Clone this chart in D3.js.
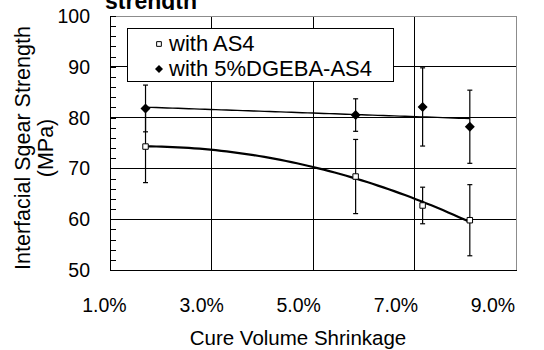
<!DOCTYPE html>
<html><head><meta charset="utf-8">
<script src="https://cdn.jsdelivr.net/npm/d3@7"></script>
<style>
html,body{margin:0;padding:0;background:#fff;}
svg{display:block;font-family:"Liberation Sans",Arial,sans-serif;}
</style></head>
<body>
<svg id="chart" width="544" height="350"></svg>
<script>
// ---- data ----
const shrinkage = [1.70, 5.84, 7.16, 8.09];           // Cure volume shrinkage (%)
const as4Strength = [74.3, 68.4, 62.7, 59.8];          // with AS4 (MPa)
const as4Error = [7.1, 7.3, 3.6, 7.0];
const dgebaStrength = [81.8, 80.5, 82.1, 78.2];        // with 5%DGEBA-AS4 (MPa)
const dgebaError = [4.6, 3.2, 7.7, 7.2];
const xTicks = [1, 3, 5, 7, 9];
const xTickLabels = ["1.0%", "3.0%", "5.0%", "7.0%", "9.0%"];
const yTicks = [50, 60, 70, 80, 90, 100];
const seriesNames = ["with AS4", "with 5%DGEBA-AS4"];
const titleText = "strength";
const xTitle = "Cure Volume Shrinkage";
const yTitle1 = "Interfacial Sgear Strength";
const yTitle2 = "(MPa)";

// ---- layout ----
const svg = d3.select("#chart");
const L = 110, R = 516, T = 16, B = 270;
const x = d3.scaleLinear().domain([1, 9]).range([L, R]);
const xLab = d3.scaleLinear().domain([1, 9]).range([104.5, 493]);
const y = d3.scaleLinear().domain([50, 100]).range([B, T]);

// title (cut at top of picture, as in reference)
svg.append("clipPath").attr("id", "tclip").append("rect").attr("x", 0).attr("y", 0).attr("width", 544).attr("height", 10);
svg.append("text").attr("clip-path", "url(#tclip)")
  .attr("x", 105).attr("y", 9).attr("font-size", 23).attr("font-weight", "bold")
  .text(titleText);

// grid
const g = svg.append("g");
g.selectAll("line.hg").data(yTicks.filter(v => v > 50 && v < 100)).enter().append("line")
  .attr("x1", L).attr("x2", R).attr("y1", d => y(d)).attr("y2", d => y(d))
  .attr("stroke", "#000").attr("stroke-width", 1).attr("shape-rendering", "crispEdges");
g.selectAll("line.vg").data(xTicks.filter(v => v > 1 && v < 9)).enter().append("line")
  .attr("y1", T).attr("y2", B).attr("x1", d => x(d)).attr("x2", d => x(d))
  .attr("stroke", "#000").attr("stroke-width", 1).attr("shape-rendering", "crispEdges");

// top/right frame in grey
g.append("line").attr("x1", L).attr("x2", R).attr("y1", T).attr("y2", T).attr("stroke", "#8c8c8c").attr("shape-rendering", "crispEdges");
g.append("line").attr("x1", R).attr("x2", R).attr("y1", T).attr("y2", B).attr("stroke", "#8c8c8c").attr("shape-rendering", "crispEdges");

// y axis with inward minor ticks
const yAxis = d3.axisRight(y).tickValues(d3.range(50, 101, 2)).tickSize(6).tickFormat("");
const ya = svg.append("g").attr("transform", `translate(${L},0)`).call(yAxis);
ya.selectAll("path,line").attr("stroke", "#000").attr("shape-rendering", "crispEdges");
ya.select(".domain").attr("d", `M0,${T}V${B}`);

// x axis line
const xAxis = d3.axisBottom(x).tickValues(xTicks).tickSize(0).tickFormat("");
const xa = svg.append("g").attr("transform", `translate(0,${B})`).call(xAxis);
xa.selectAll("path").attr("stroke", "#000").attr("shape-rendering", "crispEdges");

// tick labels
svg.selectAll("text.yl").data(yTicks).enter().append("text")
  .attr("x", 90).attr("y", d => y(d) + 7).attr("text-anchor", "end").attr("font-size", 19.5)
  .text(d => d);
svg.selectAll("text.xl").data(xTicks).enter().append("text")
  .attr("x", d => xLab(d)).attr("y", 312).attr("text-anchor", "middle").attr("font-size", 19.5)
  .text((d, i) => xTickLabels[i]);

// axis titles
svg.append("text").attr("x", 298).attr("y", 345).attr("text-anchor", "middle").attr("font-size", 20.5).text(xTitle);
svg.append("text").attr("transform", "translate(30,148) rotate(-90)").attr("text-anchor", "middle").attr("font-size", 21.5).text(yTitle1);
svg.append("text").attr("transform", "translate(53,148) rotate(-90)").attr("text-anchor", "middle").attr("font-size", 21.5).text(yTitle2);

// ---- trendlines (least squares fits of the data) ----
function polyfit(xs, ys, order) {
  const n = order + 1;
  const A = Array.from({length: n}, () => new Array(n + 1).fill(0));
  xs.forEach((xv, k) => {
    for (let i = 0; i < n; i++) {
      for (let j = 0; j < n; j++) A[i][j] += Math.pow(xv, i + j);
      A[i][n] += ys[k] * Math.pow(xv, i);
    }
  });
  for (let i = 0; i < n; i++) {
    let p = i;
    for (let r = i + 1; r < n; r++) if (Math.abs(A[r][i]) > Math.abs(A[p][i])) p = r;
    [A[i], A[p]] = [A[p], A[i]];
    for (let r = 0; r < n; r++) {
      if (r === i) continue;
      const f = A[r][i] / A[i][i];
      for (let c = i; c <= n; c++) A[r][c] -= f * A[i][c];
    }
  }
  const coef = A.map((row, i) => row[n] / row[i]);
  return xv => coef.reduce((s, c, i) => s + c * Math.pow(xv, i), 0);
}
const xmin = d3.min(shrinkage), xmax = d3.max(shrinkage);
const samp = d3.range(0, 61).map(i => xmin + (xmax - xmin) * i / 60);
const fAs4 = polyfit(shrinkage, as4Strength, 2);
const fDg = polyfit(shrinkage, dgebaStrength, 1);
const line = d3.line().x(d => x(d[0])).y(d => y(d[1]));
svg.append("path").attr("d", line(samp.map(v => [v, fAs4(v)]))).attr("fill", "none").attr("stroke", "#000").attr("stroke-width", 2.2);
svg.append("path").attr("d", line(samp.map(v => [v, fDg(v)]))).attr("fill", "none").attr("stroke", "#000").attr("stroke-width", 1.4);

// ---- error bars ----
function errBars(vals, errs) {
  const eg = svg.append("g").attr("stroke", "#000").attr("stroke-width", 1.2);
  shrinkage.forEach((xv, i) => {
    const cx = x(xv), y1 = y(vals[i] + errs[i]), y2 = y(vals[i] - errs[i]);
    eg.append("line").attr("x1", cx).attr("x2", cx).attr("y1", y1).attr("y2", y2);
    eg.append("line").attr("x1", cx - 2.5).attr("x2", cx + 2.5).attr("y1", y1).attr("y2", y1);
    eg.append("line").attr("x1", cx - 2.5).attr("x2", cx + 2.5).attr("y1", y2).attr("y2", y2);
  });
}
errBars(as4Strength, as4Error);
errBars(dgebaStrength, dgebaError);

// ---- markers ----
const squareDiamond = {
  draw(ctx, size) {
    const r = Math.sqrt(size / 2);
    ctx.moveTo(0, -r); ctx.lineTo(r, 0); ctx.lineTo(0, r); ctx.lineTo(-r, 0); ctx.closePath();
  }
};
const sq = d3.symbol().type(d3.symbolSquare).size(30);
const dia = d3.symbol().type(squareDiamond).size(50);
svg.selectAll("path.as4").data(shrinkage).enter().append("path")
  .attr("d", sq).attr("transform", (d, i) => `translate(${x(d)},${y(as4Strength[i])})`)
  .attr("fill", "#fff").attr("stroke", "#000").attr("stroke-width", 1);
svg.selectAll("path.dg").data(shrinkage).enter().append("path")
  .attr("d", dia).attr("transform", (d, i) => `translate(${x(d)},${y(dgebaStrength[i])})`)
  .attr("fill", "#000");

// ---- legend ----
const lg = svg.append("g");
lg.append("rect").attr("x", 127.5).attr("y", 28.5).attr("width", 266).attr("height", 53)
  .attr("fill", "#fff").attr("stroke", "#000").attr("stroke-width", 1);
lg.append("path").attr("d", d3.symbol().type(d3.symbolSquare).size(22)).attr("transform", "translate(159,44)")
  .attr("fill", "#fff").attr("stroke", "#000").attr("stroke-width", 1);
lg.append("path").attr("d", d3.symbol().type(squareDiamond).size(32)).attr("transform", "translate(159,69)")
  .attr("fill", "#000");
lg.append("text").attr("x", 169).attr("y", 51).attr("font-size", 22).text(seriesNames[0]);
lg.append("text").attr("x", 169).attr("y", 76).attr("font-size", 22).text(seriesNames[1]);
</script>
</body></html>
